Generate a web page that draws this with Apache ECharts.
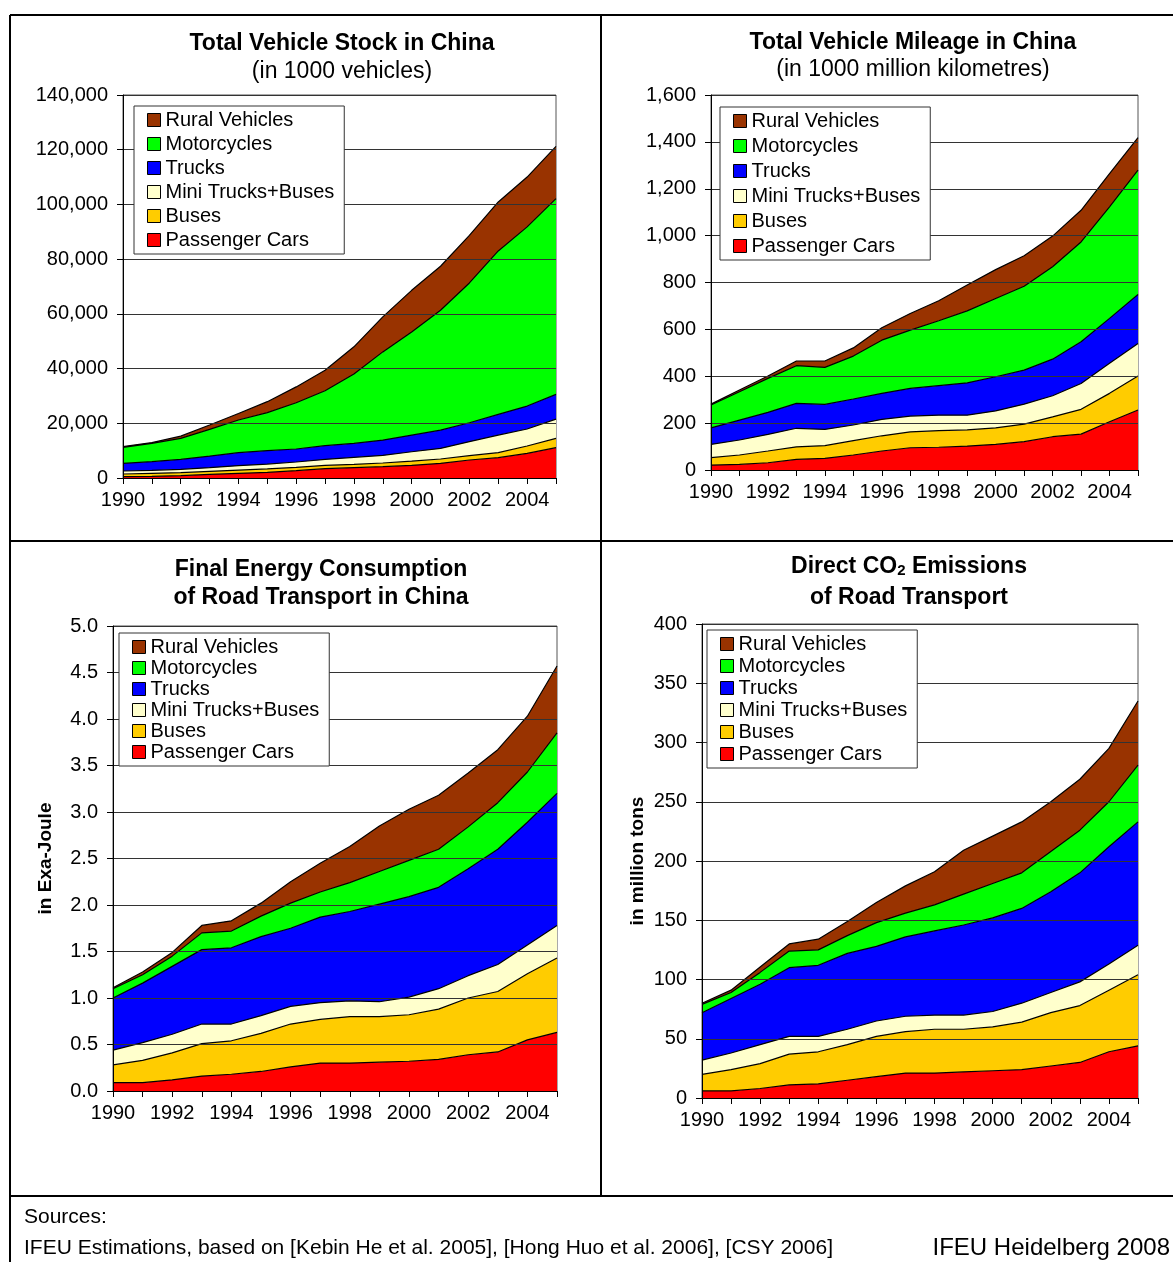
<!DOCTYPE html>
<html>
<head>
<meta charset="utf-8">
<title>Road Transport in China</title>
<script src="https://cdn.jsdelivr.net/npm/echarts@6/dist/echarts.min.js"></script>
<style>
  html, body { margin: 0; padding: 0; background: #fff; }
  #chart { width: 1173px; height: 1262px; }
</style>
</head>
<body>
<div id="chart"></div>
<script>
// years on the x axis
const years = ["1990", "1991", "1992", "1993", "1994", "1995", "1996", "1997",
  "1998", "1999", "2000", "2001", "2002", "2003", "2004", "2005"];

// Total vehicle stock (1000 vehicles)
const stockCars   = [500, 600, 850, 1340, 1700, 2070, 2680, 3400, 3770, 4140, 4620, 5350, 6570, 7420, 9000, 11100];
const stockBuses  = [960, 1100, 1100, 1090, 1200, 1230, 1220, 1200, 1230, 1340, 1580, 1590, 1580, 1830, 2700, 3400];
const stockMini   = [1090, 1100, 1210, 1340, 1600, 1800, 1940, 2200, 2550, 2790, 3400, 3860, 5120, 6450, 6200, 7040];
const stockTrucks = [2800, 3160, 3640, 4230, 4750, 4900, 4760, 5000, 5100, 5600, 6100, 6700, 6930, 7550, 8400, 9010];
const stockMoto   = [5850, 6690, 7700, 9800, 11950, 13900, 16900, 20100, 25350, 32230, 37700, 43800, 51100, 59750, 65500, 71550];
const stockRural  = [300, 300, 800, 1550, 2400, 4000, 5800, 7500, 9950, 12800, 15200, 16100, 17400, 17900, 18200, 19100];

// Total vehicle mileage (1000 million km)
const mileCars   = [21, 24, 31, 45, 50, 64, 81, 95, 97, 102, 109, 121, 142, 153, 206, 256];
const mileBuses  = [32, 40, 50, 54, 54, 61, 65, 68, 71, 69, 71, 75, 85, 106, 121, 145];
const mileMini   = [56, 64, 71, 79, 69, 67, 70, 67, 66, 63, 72, 85, 90, 110, 128, 139];
const mileTrucks = [71, 85, 94, 106, 107, 111, 111, 118, 126, 138, 146, 145, 156, 178, 192, 209];
const mileMoto   = [97, 121, 145, 161, 158, 183, 227, 249, 277, 307, 334, 358, 394, 426, 476, 530];
const mileRural  = [4, 7, 10, 20, 27, 35, 53, 71, 85, 110, 123, 130, 131, 135, 142, 139];

// Final energy consumption (Exa-Joule)
const energyCars   = [0.09, 0.09, 0.12, 0.16, 0.18, 0.21, 0.26, 0.30, 0.30, 0.31, 0.32, 0.34, 0.39, 0.42, 0.55, 0.63];
const energyBuses  = [0.19, 0.24, 0.29, 0.35, 0.36, 0.41, 0.46, 0.47, 0.50, 0.49, 0.50, 0.54, 0.61, 0.65, 0.71, 0.80];
const energyMini   = [0.16, 0.19, 0.20, 0.21, 0.18, 0.19, 0.19, 0.18, 0.17, 0.16, 0.19, 0.22, 0.24, 0.29, 0.31, 0.35];
const energyTrucks = [0.56, 0.64, 0.73, 0.80, 0.82, 0.85, 0.84, 0.92, 0.96, 1.05, 1.08, 1.09, 1.15, 1.24, 1.32, 1.42];
const energyMoto   = [0.10, 0.09, 0.11, 0.18, 0.18, 0.22, 0.27, 0.27, 0.31, 0.35, 0.39, 0.41, 0.45, 0.50, 0.54, 0.65];
const energyRural  = [0.01, 0.03, 0.04, 0.08, 0.11, 0.14, 0.23, 0.31, 0.39, 0.49, 0.55, 0.58, 0.58, 0.57, 0.60, 0.72];

// Direct CO2 emissions (million tons)
const co2Cars   = [6, 6, 8, 11, 12, 15, 18, 21, 21, 22, 23, 24, 27, 30, 39, 44];
const co2Buses  = [14, 18, 21, 26, 27, 30, 34, 35, 37, 36, 37, 40, 45, 48, 52, 60];
const co2Mini   = [12, 14, 16, 15, 13, 13, 13, 13, 12, 12, 13, 16, 17, 20, 22, 25];
const co2Trucks = [40, 46, 51, 58, 60, 64, 63, 67, 71, 76, 79, 80, 85, 92, 99, 104];
const co2Moto   = [7, 5, 10, 14, 13, 15, 20, 20, 22, 26, 29, 30, 34, 36, 38, 48];
const co2Rural  = [1, 2, 4.5, 6, 9, 12, 17, 23, 28, 37, 40, 43, 42, 43, 45, 54];

const FONT = "Liberation Sans, Arial, sans-serif";
const names = ["Passenger Cars", "Buses", "Mini Trucks+Buses", "Trucks", "Motorcycles", "Rural Vehicles"];
const colors = ["#ff0000", "#ffcc00", "#ffffcc", "#0000ff", "#00ff00", "#993300"];

const grids = [
  { left: 123, top: 95, width: 433, height: 383 },
  { left: 711, top: 95, width: 427, height: 375 },
  { left: 113, top: 626, width: 444, height: 465 },
  { left: 702, top: 624, width: 436, height: 474 }
];

const chartData = [
  [stockCars, stockBuses, stockMini, stockTrucks, stockMoto, stockRural],
  [mileCars, mileBuses, mileMini, mileTrucks, mileMoto, mileRural],
  [energyCars, energyBuses, energyMini, energyTrucks, energyMoto, energyRural],
  [co2Cars, co2Buses, co2Mini, co2Trucks, co2Moto, co2Rural]
];

const yScales = [
  { max: 140000, interval: 20000 },
  { max: 1600, interval: 200 },
  { max: 5, interval: 0.5, formatter: v => v.toFixed(1), name: "in Exa-Joule", nameGap: 58 },
  { max: 400, interval: 50, name: "in million tons", nameGap: 55 }
];

// legend boxes (position, item gap)
const legendPos = [
  { left: 134, top: 106, itemGap: 4 },
  { left: 720, top: 107, itemGap: 5 },
  { left: 119, top: 633, itemGap: 1 },
  { left: 707, top: 630, itemGap: 2 }
];

const chart = echarts.init(document.getElementById("chart"));

const xAxis = grids.map((g, i) => ({
  type: "category",
  gridIndex: i,
  data: years,
  boundaryGap: false,
  axisLine: { lineStyle: { color: "#000", width: 1 } },
  axisTick: { interval: 0, length: 6, lineStyle: { color: "#000" } },
  axisLabel: { interval: 1, fontSize: 20, color: "#000", fontFamily: FONT, margin: 12 },
  z: 5
}));

const yAxis = yScales.map((s, i) => ({
  type: "value",
  gridIndex: i,
  min: 0,
  max: s.max,
  interval: s.interval,
  name: s.name || "",
  nameLocation: "middle",
  nameRotate: 90,
  nameGap: s.nameGap || 0,
  nameTextStyle: { fontSize: 19, fontWeight: "bold", color: "#000", fontFamily: FONT },
  axisLine: { show: true, lineStyle: { color: "#000", width: 1 } },
  axisTick: { show: true, length: 6, lineStyle: { color: "#000" } },
  axisLabel: { fontSize: 20, color: "#000", fontFamily: FONT, margin: 15, formatter: s.formatter },
  splitLine: { show: true, lineStyle: { color: "#333", width: 1 } },
  z: 5
}));

const series = [];
chartData.forEach((set, i) => {
  set.forEach((vals, k) => {
    series.push({
      name: names[k],
      type: "line",
      xAxisIndex: i,
      yAxisIndex: i,
      stack: "total" + i,
      data: vals,
      symbol: "none",
      color: colors[k],
      lineStyle: { color: "#000", width: 1.2 },
      areaStyle: { color: colors[k], opacity: 1 },
      silent: true,
      animation: false
    });
  });
});

const legendData = names.slice().reverse().map(n => ({
  name: n,
  itemStyle: { color: colors[names.indexOf(n)], borderColor: "#000", borderWidth: 1 }
}));

const legend = legendPos.map(p => ({
  orient: "vertical",
  left: p.left,
  top: p.top,
  data: legendData,
  icon: "rect",
  itemWidth: 13,
  itemHeight: 13,
  itemGap: p.itemGap,
  padding: [4, 10, 4, 13],
  backgroundColor: "#fff",
  borderColor: "#333",
  borderWidth: 1,
  selectedMode: false,
  textStyle: { fontSize: 20, color: "#000", fontFamily: FONT, lineHeight: 20 },
  z: 10
}));

function t(text, x, y, bold, extra) {
  return Object.assign({
    text: text,
    left: x,
    top: y,
    textAlign: "center",
    padding: 0,
    textStyle: { fontSize: 23, fontWeight: bold ? "bold" : "normal", color: "#000", fontFamily: FONT }
  }, extra || {});
}

const title = [
  t("Total Vehicle Stock in China", 342, 32, true),
  t("(in 1000 vehicles)", 342, 60, false),
  t("Total Vehicle Mileage in China", 913, 31, true),
  t("(in 1000 million kilometres)", 913, 58, false),
  t("Final Energy Consumption", 321, 558, true),
  t("of Road Transport in China", 321, 586, true),
  {
    text: "Direct CO{sub|2} Emissions",
    left: 909, top: 555, textAlign: "center", padding: 0,
    textStyle: {
      fontSize: 23, fontWeight: "bold", color: "#000", fontFamily: FONT,
      rich: { sub: { fontSize: 15, fontWeight: "bold", fontFamily: FONT, color: "#000", verticalAlign: "bottom", padding: [8, 0, 0, 0] } }
    }
  },
  t("of Road Transport", 909, 586, true)
];

// frame lines and footer
const frame = [
  [10, 15, 1173, 15],
  [10, 15, 10, 1262],
  [601, 15, 601, 1196],
  [10, 541, 1173, 541],
  [10, 1196, 1173, 1196]
].map(l => ({
  type: "line",
  shape: { x1: l[0], y1: l[1], x2: l[2], y2: l[3] },
  style: { stroke: "#000", lineWidth: 2 },
  silent: true
}));

const footer = [
  { type: "text", left: 24, top: 1207, style: { text: "Sources:", fontSize: 21, fill: "#000", fontFamily: FONT } },
  { type: "text", left: 24, top: 1238, style: { text: "IFEU Estimations, based on [Kebin He et al. 2005], [Hong Huo et al. 2006], [CSY 2006]", fontSize: 21, fill: "#000", fontFamily: FONT } },
  { type: "text", right: 3, top: 1236, style: { text: "IFEU Heidelberg 2008", fontSize: 24, fill: "#000", fontFamily: FONT } }
];

chart.setOption({
  backgroundColor: "#fff",
  animation: false,
  title: title,
  legend: legend,
  grid: grids.map(g => Object.assign({ show: true, borderColor: "#555", borderWidth: 1, backgroundColor: "#fff", containLabel: false }, g)),
  xAxis: xAxis,
  yAxis: yAxis,
  series: series,
  graphic: frame.concat(footer)
});
</script>
</body>
</html>
